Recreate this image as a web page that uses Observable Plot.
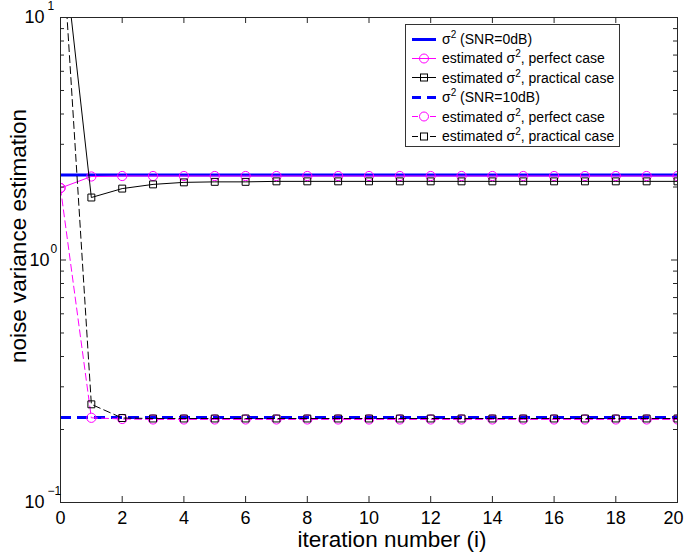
<!DOCTYPE html>
<html><head><meta charset="utf-8">
<script src="https://cdn.jsdelivr.net/npm/d3@7"></script>
<script src="https://cdn.jsdelivr.net/npm/@observablehq/plot@0.6"></script>
<style>
body{margin:0;background:#fff;}
#wrap{position:relative;width:685px;height:552px;font-family:"Liberation Sans",Arial,sans-serif;}
#legend{position:absolute;left:405px;top:24px;width:213px;height:121px;border:1px solid #333;background:#fff;font-size:14px;color:#000;box-sizing:content-box;}
.row{position:absolute;left:0;height:19px;display:flex;align-items:center;white-space:nowrap;}
.row svg{margin-left:6px;margin-right:6px;}
sup{font-size:10px;line-height:0;}
</style></head><body><div id="wrap"></div>
<script>
// ---- data ----
const iterations = [0,1,2,3,4,5,6,7,8,9,10,11,12,13,14,15,16,17,18,19,20];
const trueVar0dB = 2.24;
const trueVar10dB = 0.224;
const perfect0dB = [1.98,2.21,2.22,2.22,2.22,2.22,2.22,2.22,2.22,2.22,2.22,2.22,2.22,2.22,2.22,2.22,2.22,2.22,2.22,2.22,2.22];
const practical0dB = [25,1.81,1.97,2.05,2.09,2.10,2.10,2.11,2.11,2.11,2.11,2.11,2.11,2.11,2.11,2.11,2.11,2.11,2.11,2.11,2.11];
const perfect10dB = [1.98,0.2235,0.221,0.220,0.220,0.220,0.220,0.220,0.220,0.220,0.220,0.220,0.220,0.220,0.220,0.220,0.220,0.220,0.220,0.220,0.220];
const practical10dB = [27,0.254,0.223,0.222,0.222,0.222,0.222,0.222,0.222,0.222,0.222,0.222,0.222,0.222,0.222,0.222,0.222,0.222,0.222,0.222,0.222];
const xTicks = [0,2,4,6,8,10,12,14,16,18,20];
const xTickLabelsInner = [0,2,4,6,8,10,12,14,16,18];
const xTickLabelsEdge = [20];
const yMajorOuter = [0.1,10];
const yExponentsOuter = ["\u22121","1"];
const yMajorMid = [1];
const yExponentsMid = ["0"];
const yMinor = [0.2,0.3,0.4,0.5,0.6,0.7,0.8,0.9,2,3,4,5,6,7,8,9];
const xLabel = "iteration number (i)";
const yLabel = "noise variance estimation";
const legendItems = [
  {pre:"\u03c3", post:" (SNR=0dB)", kind:"blue", dash:false},
  {pre:"estimated \u03c3", post:", perfect case", kind:"circle", dash:false},
  {pre:"estimated \u03c3", post:", practical case", kind:"square", dash:false},
  {pre:"\u03c3", post:" (SNR=10dB)", kind:"blue", dash:true},
  {pre:"estimated \u03c3", post:", perfect case", kind:"circle", dash:true},
  {pre:"estimated \u03c3", post:", practical case", kind:"square", dash:true}
];

// ---- chart ----
const W = 685, H = 552, mL = 60, mR = 8, mT = 17, mB = 50;
const innerW = W - mL - mR, innerH = H - mT - mB;
const BLUE = "#0000ff", MAG = "#ff00ff", BLK = "#000000", AX = "#262626";
const toRows = (vals) => iterations.map((x, i) => ({x, y: vals[i]}));
const yMajor = [...yMajorOuter, ...yMajorMid];

const chart = Plot.plot({
  width: W, height: H,
  marginLeft: mL, marginRight: mR, marginTop: mT, marginBottom: mB,
  style: {fontFamily: '"Liberation Sans", Arial, sans-serif', background: "#fff", overflow: "visible"},
  x: {domain: [0, 20], axis: null},
  y: {type: "log", domain: [0.1, 10], axis: null},
  marks: [
    Plot.ruleY([trueVar0dB], {stroke: BLUE, strokeWidth: 3}),
    Plot.line(toRows(perfect0dB), {x: "x", y: "y", stroke: MAG, strokeWidth: 1, clip: true}),
    Plot.dot(toRows(perfect0dB), {x: "x", y: "y", stroke: MAG, r: 4.6, strokeWidth: 1, fill: "none", clip: true}),
    Plot.line(toRows(practical0dB), {x: "x", y: "y", stroke: BLK, strokeWidth: 1, clip: true}),
    Plot.dot(toRows(practical0dB), {x: "x", y: "y", stroke: BLK, symbol: "square", r: 3.9, strokeWidth: 1, fill: "none", clip: true}),
    Plot.ruleY([trueVar10dB], {stroke: BLUE, strokeWidth: 3, strokeDasharray: "11,6"}),
    Plot.line(toRows(perfect10dB), {x: "x", y: "y", stroke: MAG, strokeWidth: 1, strokeDasharray: "7,4", clip: true}),
    Plot.dot(toRows(perfect10dB), {x: "x", y: "y", stroke: MAG, r: 4.6, strokeWidth: 1, fill: "none", clip: true}),
    Plot.line(toRows(practical10dB), {x: "x", y: "y", stroke: BLK, strokeWidth: 1, strokeDasharray: "7,4", clip: true}),
    Plot.dot(toRows(practical10dB), {x: "x", y: "y", stroke: BLK, symbol: "square", r: 3.9, strokeWidth: 1, fill: "none", clip: true}),
    // frame and inward ticks
    Plot.frame({stroke: AX, strokeWidth: 1}),
    Plot.tickX(xTicks, {x: d => d, stroke: AX, insetTop: innerH - 6}),
    Plot.tickX(xTicks, {x: d => d, stroke: AX, insetBottom: innerH - 6}),
    Plot.tickY(yMajor, {y: d => d, stroke: AX, insetRight: innerW - 6}),
    Plot.tickY(yMajor, {y: d => d, stroke: AX, insetLeft: innerW - 6}),
    Plot.tickY(yMinor, {y: d => d, stroke: AX, insetRight: innerW - 4}),
    Plot.tickY(yMinor, {y: d => d, stroke: AX, insetLeft: innerW - 4}),
    // tick labels
    Plot.text(xTickLabelsInner, {x: d => d, text: d => String(d), frameAnchor: "bottom", dy: 16, lineAnchor: "middle", fontSize: 18, fill: "#000"}),
    Plot.text(xTickLabelsEdge, {x: d => d, text: d => String(d), frameAnchor: "bottom", dx: -4, dy: 16, lineAnchor: "middle", fontSize: 18, fill: "#000"}),
    Plot.text(yMajorOuter, {y: d => d, text: () => "10", frameAnchor: "left", textAnchor: "end", dx: -16, lineAnchor: "middle", fontSize: 18, fill: "#000"}),
    Plot.text(yMajorOuter, {y: d => d, text: (d, i) => yExponentsOuter[i], frameAnchor: "left", textAnchor: "start", dx: -13, dy: -11, lineAnchor: "middle", fontSize: 12, fill: "#000"}),
    Plot.text(yMajorMid, {y: d => d, text: () => "10", frameAnchor: "left", textAnchor: "end", dx: -11, lineAnchor: "middle", fontSize: 18, fill: "#000"}),
    Plot.text(yMajorMid, {y: d => d, text: (d, i) => yExponentsMid[i], frameAnchor: "left", textAnchor: "start", dx: -10, dy: -11, lineAnchor: "middle", fontSize: 12, fill: "#000"}),
    // axis labels
    Plot.text([xLabel], {text: d => d, frameAnchor: "bottom", textAnchor: "middle", dx: 23, dy: 37, lineAnchor: "middle", fontSize: 22.5, fill: "#000"}),
    Plot.text([yLabel], {text: d => d, frameAnchor: "left", textAnchor: "middle", dx: -42, dy: -24, rotate: -90, lineAnchor: "middle", fontSize: 22.5, fill: "#000"})
  ]
});

const wrap = document.getElementById("wrap");
wrap.appendChild(chart);

// ---- legend ----
const legend = document.createElement("div");
legend.id = "legend";
legendItems.forEach((it, i) => {
  const row = document.createElement("div");
  row.className = "row";
  row.style.top = (4.5 + i * 19.4) + "px";
  const color = it.kind === "blue" ? BLUE : it.kind === "circle" ? MAG : BLK;
  const sw = it.kind === "blue" ? 3 : 1;
  let marker = "";
  if (it.kind === "circle") marker = `<circle cx="12" cy="9.5" r="4.5" fill="none" stroke="${MAG}"/>`;
  if (it.kind === "square") marker = `<rect x="8.5" y="6" width="7" height="7" fill="none" stroke="${BLK}"/>`;
  let lineStr;
  if (it.dash && it.kind !== "blue") {
    lineStr = `<line x1="0" x2="6" y1="9.5" y2="9.5" stroke="${color}" stroke-width="${sw}"/><line x1="18" x2="24" y1="9.5" y2="9.5" stroke="${color}" stroke-width="${sw}"/>`;
  } else {
    lineStr = `<line x1="0" x2="24" y1="9.5" y2="9.5" stroke="${color}" stroke-width="${sw}" ${it.dash ? 'stroke-dasharray="9,6"' : ""}/>`;
  }
  row.innerHTML = `<svg width="24" height="19">${lineStr}${marker}</svg><span>${it.pre}<sup>2</sup>${it.post}</span>`;
  legend.appendChild(row);
});
wrap.appendChild(legend);
</script></body></html>
